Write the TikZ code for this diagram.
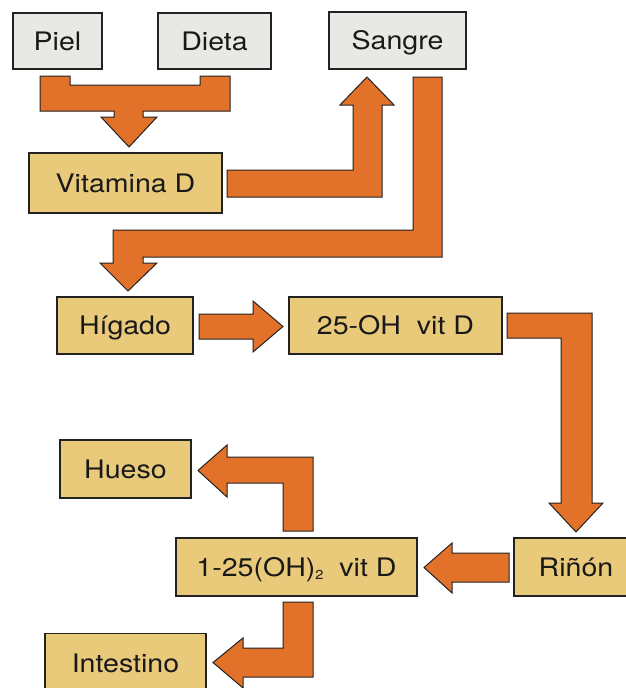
\documentclass[tikz,border=0pt]{standalone}
\usepackage{fontspec}
\setmainfont[FakeStretch=1.12]{TeX Gyre Heros}
\definecolor{arrorange}{RGB}{226,114,42}
\definecolor{boxtan}{RGB}{233,201,122}
\definecolor{boxgrey}{RGB}{232,232,229}
\definecolor{edgec}{RGB}{34,34,34}
\tikzset{
  box/.style={draw=edgec, line width=1.3pt, inner sep=0pt, align=center,
    font=\fontsize{25.5}{28}\selectfont, text=black!90,
    text height=18.3pt, text depth=0pt},
  greybox/.style={box, fill=boxgrey},
  tanbox/.style={box, fill=boxtan},
  blockarrow/.style={draw=edgec, line width=1pt, fill=arrorange, line join=miter}
}
\begin{document}
\begin{tikzpicture}[x=1pt,y=-1pt]
\useasboundingbox (0,0) rectangle (625,688);
% boxes
\node[greybox, minimum width=89pt, minimum height=56pt] (piel) at (57.5,41) {Piel};
\node[greybox, minimum width=113pt, minimum height=56pt] (dieta) at (214.5,41) {Dieta};
\node[greybox, minimum width=137pt, minimum height=57pt] (sangre) at (397.5,40.5) {Sangre};
\node[tanbox, minimum width=193pt, minimum height=60pt] (vitd) at (125.5,183) {Vitamina D};
\node[tanbox, minimum width=136pt, minimum height=57pt] (higado) at (125,325.5) {Hígado};
\node[tanbox, minimum width=213pt, minimum height=57pt] (oh25) at (395.5,325.5) {25-OH\ \ vit D};
\node[tanbox, minimum width=124pt, minimum height=58pt] (rinon) at (576,567) {Riñón};
\node[tanbox, minimum width=241pt, minimum height=58pt] (oh125) at (296.5,567) {1-25(OH)\raisebox{-0.25ex}{\fontsize{13}{14}\selectfont 2}\ \ vit D};
\node[tanbox, minimum width=131pt, minimum height=58pt] (hueso) at (125.5,469) {Hueso};
\node[tanbox, minimum width=161pt, minimum height=59pt] (intestino) at (125.5,663) {Intestino};
% block arrows
% Piel + Dieta -> Vitamina D
\draw[blockarrow] (40,76) -- (70,76) -- (70,85) -- (200,85) -- (200,76) -- (230,76)
  -- (230,111) -- (143,111) -- (143,117) -- (157,117) -- (129,147) -- (101,117)
  -- (114,117) -- (114,111) -- (40,111) -- cycle;
% Vitamina D -> Sangre
\draw[blockarrow] (227,170) -- (353,170) -- (353,105) -- (340,105) -- (367,77)
  -- (394,105) -- (382,105) -- (382,197) -- (227,197) -- cycle;
% Sangre -> Higado
\draw[blockarrow] (413,77) -- (442,77) -- (442,257) -- (143,257) -- (143,263)
  -- (157,263) -- (128,291) -- (100,263) -- (113,263) -- (113,230) -- (413,230) -- cycle;
% Higado -> 25-OH
\draw[blockarrow] (199,314) -- (253,314) -- (253,301) -- (283,326.5) -- (253,352)
  -- (253,339) -- (199,339) -- cycle;
% 25-OH -> Rinon
\draw[blockarrow] (507,313) -- (592,313) -- (592,503) -- (603,503) -- (576,532)
  -- (549,503) -- (561,503) -- (561,338) -- (507,338) -- cycle;
% Rinon -> 1-25
\draw[blockarrow] (509,553) -- (509,582) -- (452,582) -- (452,593) -- (424,567.5)
  -- (452,543) -- (452,553) -- cycle;
% 1-25 -> Hueso
\draw[blockarrow] (313,531) -- (313,457) -- (227,457) -- (227,445) -- (198,470.5)
  -- (227,497) -- (227,483) -- (283,483) -- (283,531) -- cycle;
% 1-25 -> Intestino
\draw[blockarrow] (283,602) -- (313,602) -- (313,677) -- (243,677) -- (243,688)
  -- (213,662.5) -- (243,638) -- (243,648) -- (283,648) -- cycle;
\end{tikzpicture}
\end{document}
